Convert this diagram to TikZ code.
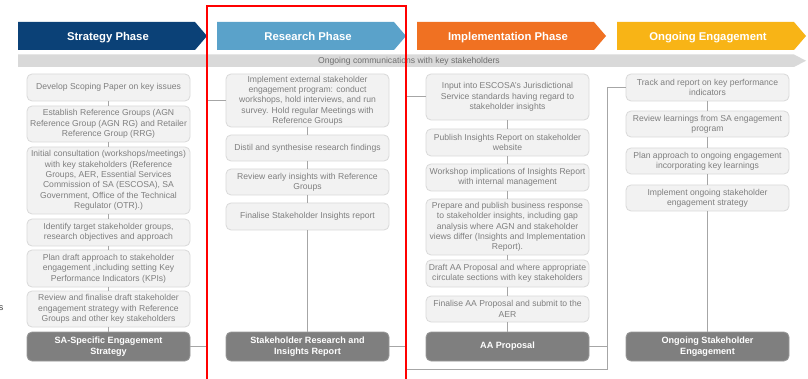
\documentclass[tikz,border=0pt]{standalone}
\usepackage{fontspec}
\setmainfont{Liberation Sans}
\definecolor{stratblue}{HTML}{0B4177}
\definecolor{resblue}{HTML}{5AA2CA}
\definecolor{implorange}{HTML}{F07122}
\definecolor{ongoyellow}{HTML}{F8B416}
\definecolor{bandgrey}{HTML}{D9D9D9}
\definecolor{bandtext}{HTML}{6E6E6E}
\definecolor{boxfill}{HTML}{F2F2F2}
\definecolor{boxline}{HTML}{D9D9D9}
\definecolor{boxtext}{HTML}{7F7F7F}
\definecolor{darkfill}{HTML}{7F7F7F}
\definecolor{darkline}{HTML}{999999}
\definecolor{linkgrey}{HTML}{A6A6A6}
\definecolor{framered}{HTML}{FF0000}
\begin{document}
\begin{tikzpicture}[x=1pt,y=-1pt,
  stagebox/.style={draw=boxline, fill=boxfill, rounded corners=5pt, line width=0.8pt,
    text=boxtext, font=\fontsize{8.6}{10.3}\selectfont, align=center,
    minimum width=163pt, inner sep=1pt},
  outcome/.style={draw=darkline, fill=darkfill, rounded corners=5pt, line width=0.8pt,
    text=white, font=\bfseries\fontsize{9.1}{11.5}\selectfont, align=center,
    minimum width=163pt, minimum height=29pt, inner sep=1pt},
  phasetext/.style={text=white, font=\bfseries\fontsize{11.3}{13}\selectfont,
    text height=8.2pt, text depth=0pt, inner sep=0pt},
  link/.style={draw=linkgrey, line width=1pt}]
\useasboundingbox (0,0) rectangle (808,379);
\fill[white] (0,0) rectangle (808,379);

% phase chevrons
\fill[stratblue]  (18,22)  -- (195,22) -- (207,36) -- (195,50) -- (18,50) -- cycle;
\fill[resblue]    (217,22) -- (394,22) -- (406,36) -- (394,50) -- (217,50) -- cycle;
\fill[implorange] (417,22) -- (594,22) -- (606,36) -- (594,50) -- (417,50) -- cycle;
\fill[ongoyellow] (617,22) -- (794,22) -- (806,36) -- (794,50) -- (617,50) -- cycle;
\node[phasetext] (pS) at (108,36) {Strategy Phase};
\node[phasetext] (pR) at (308,36) {Research Phase};
\node[phasetext] (pI) at (508,36) {Implementation Phase};
\node[phasetext] (pO) at (708,36) {Ongoing Engagement};

% communications band
\fill[bandgrey] (18,54.5) -- (794,54.5) -- (806,60.75) -- (794,67) -- (18,67) -- cycle;
\node[text=bandtext, font=\fontsize{8.6}{10}\selectfont] (band) at (409,61) {Ongoing communications with key stakeholders};

% stray glyph at the left margin
\node[anchor=east, text=black!75, font=\fontsize{9}{10}\selectfont, inner sep=0pt] (edge) at (3.5,308) {s};

% column junctions
\coordinate (jA) at (207,0);
\coordinate (jB) at (406,0);
\coordinate (jC) at (607,0);
\coordinate (bl) at (406,369.5);
\coordinate (br) at (607,369.5);

% Strategy column
\node[stagebox, minimum height=27pt] (s1) at (108.5,87.5) {Develop Scoping Paper on key issues};
\node[stagebox, minimum height=36pt] (s2) at (108.5,124) {Establish Reference Groups (AGN\\Reference Group (AGN RG) and Retailer\\Reference Group (RRG)};
\node[stagebox, minimum height=67pt] (s3) at (108.5,180.5) {Initial consultation (workshops/meetings)\\with key stakeholders (Reference\\Groups, AER, Essential Services\\Commission of SA (ESCOSA), SA\\Government,  Office of the Technical\\Regulator (OTR).)};
\node[stagebox, minimum height=27pt] (s4) at (108.5,232.5) {Identify  target stakeholder groups,\\research objectives and approach};
\node[stagebox, minimum height=37pt] (s5) at (108.5,268.5) {Plan draft approach to stakeholder\\engagement ,including setting Key\\Performance Indicators (KPIs)};
\node[stagebox, minimum height=36pt] (s6) at (108.5,309) {Review and finalise draft stakeholder\\engagement strategy with Reference\\Groups and other key stakeholders};
\node[outcome] (s7) at (108.5,346.5) {SA-Specific  Engagement\\Strategy};

% Research column
\node[stagebox, minimum height=53pt] (r1) at (307.5,100.5) {Implement external stakeholder\\engagement program: conduct\\workshops, hold interviews, and run\\survey.  Hold regular Meetings with\\Reference Groups};
\node[stagebox, minimum height=26pt] (r2) at (307.5,148) {Distil and synthesise research findings};
\node[stagebox, minimum height=26pt] (r3) at (307.5,182) {Review early insights with Reference\\Groups};
\node[stagebox, minimum height=27pt] (r4) at (307.5,216.5) {Finalise Stakeholder Insights  report};
\node[outcome] (r5) at (307.5,346.5) {Stakeholder  Research and\\Insights  Report};

% Implementation column
\node[stagebox, minimum height=46pt] (i1) at (507.5,97) {Input  into ESCOSA's Jurisdictional\\Service standards having regard to\\stakeholder insights};
\node[stagebox, minimum height=27pt] (i2) at (507.5,142.5) {Publish Insights  Report on stakeholder\\website};
\node[stagebox, minimum height=27pt] (i3) at (507.5,177.5) {Workshop implications of Insights  Report\\with internal management};
\node[stagebox, minimum height=56pt] (i4) at (507.5,227) {Prepare and publish business response\\to stakeholder insights, including gap\\analysis where AGN and stakeholder\\views differ (Insights  and Implementation\\Report).};
\node[stagebox, minimum height=27pt] (i5) at (507.5,273.5) {Draft AA Proposal and where appropriate\\circulate sections with key stakeholders};
\node[stagebox, minimum height=26pt] (i6) at (507.5,309) {Finalise AA Proposal and submit to the\\AER};
\node[outcome] (i7) at (507.5,346.5) {AA  Proposal};

% Ongoing column
\node[stagebox, minimum height=27pt] (o1) at (707.5,87.5) {Track and report on key performance\\indicators};
\node[stagebox, minimum height=26pt] (o2) at (707.5,124) {Review learnings from SA engagement\\program};
\node[stagebox, minimum height=26pt] (o3) at (707.5,161) {Plan approach to ongoing engagement\\incorporating key learnings};
\node[stagebox, minimum height=26pt] (o4) at (707.5,198) {Implement  ongoing stakeholder\\engagement strategy};
\node[outcome] (o5) at (707.5,346.5) {Ongoing  Stakeholder\\Engagement};

% connectors within columns
\path[link] (s1) -- (s2) (s2) -- (s3) (s3) -- (s4) (s4) -- (s5) (s5) -- (s6) (s6) -- (s7);
\path[link] (r1) -- (r2) (r2) -- (r3) (r3) -- (r4) (r4) -- (r5);
\path[link] (i1) -- (i2) (i2) -- (i3) (i3) -- (i4) (i4) -- (i5) (i5) -- (i6) (i6) -- (i7);
\path[link] (o1) -- (o2) (o2) -- (o3) (o3) -- (o4) (o4) -- (o5);

% connectors between columns
\draw[link] (s7.east) -- (s7.east -| jA) |- (r1.west);
\draw[link] (r5.east) -- (r5.east -| jB) |- (i1.west);
\draw[link] (i7.east) -- (i7.east -| jC) |- (o1.west);
\draw[link] (r5.east -| jB) -- (bl) -- (br) -- (i7.east -| jC);

% highlight frame around the research phase
\draw[framered, line width=1.6pt] (207,6) rectangle (406,390);
\end{tikzpicture}
\end{document}
